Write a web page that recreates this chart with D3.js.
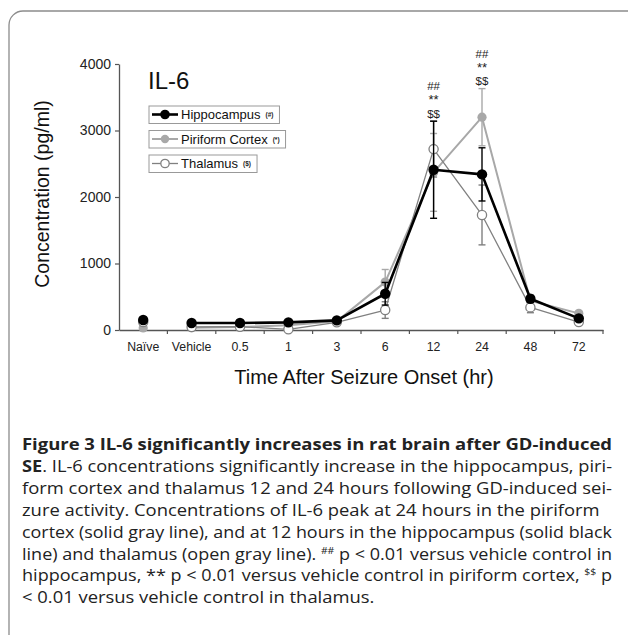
<!DOCTYPE html>
<html>
<head>
<meta charset="utf-8">
<script src="https://cdn.jsdelivr.net/npm/d3@7"></script>
<style>
  body { margin: 0; background: #fff; }
  svg { display: block; }
</style>
</head>
<body>
<div id="svg-area"></div>
<script>
// x categories (time after seizure onset)
var categories = ["Naïve", "Vehicle", "0.5", "1", "3", "6", "12", "24", "48", "72"];

// IL-6 concentration (pg/ml)
var hippocampus    = [150, 105, 105, 115, 145, 545, 2410, 2340, 470, 175];
var hippocampusErr = [25, 20, 20, 20, 25, 170, 730, 400, 50, 30];
var piriform       = [30, 35, 45, 70, 130, 720, 2370, 3200, 440, 250];
var piriformErr    = [20, 15, 15, 15, 20, 190, 585, 430, 60, 30];
var thalamus       = [120, 45, 50, 10, 115, 300, 2720, 1730, 340, 120];
var thalamusErr    = [10, 15, 15, 10, 20, 125, 420, 450, 80, 20];

var yTicks = [0, 1000, 2000, 3000, 4000];

// categories marked significant (## ** $$)
var sigCategories = ["12", "24"];
var sigMarks = ["##", "**", "$$"];

var series = [
  { name: "Piriform Cortex", tag: "(*)", values: piriform, err: piriformErr,
    color: "#a8a8a8", width: 2, fill: "#a8a8a8", r: 4.6 },
  { name: "Thalamus", tag: "($)", values: thalamus, err: thalamusErr,
    color: "#808080", width: 1.3, fill: "#fff", r: 4.6 },
  { name: "Hippocampus", tag: "(#)", values: hippocampus, err: hippocampusErr,
    color: "#000", width: 2.6, fill: "#000", r: 5.2 }
];
var legendOrder = ["Hippocampus", "Piriform Cortex", "Thalamus"];

var W = 628, H = 635;
var svg = d3.select("#svg-area")
  .append("svg")
  .attr("width", W)
  .attr("height", H);

// rounded frame, running off the right and bottom edge
svg.append("rect")
  .attr("x", 9).attr("y", 11)
  .attr("width", 660).attr("height", 640)
  .attr("rx", 14)
  .attr("fill", "none")
  .attr("stroke", "#8c8c8c")
  .attr("stroke-width", 1.3);

var x = d3.scaleBand().domain(categories).range([119, 603]);
var y = d3.scaleLinear().domain([0, 4000]).range([330, 64]);
var cx = function (i) { return x(categories[i]) + x.bandwidth() / 2; };

var font = "'Liberation Sans', Arial, sans-serif";

// y axis
var yAxis = svg.append("g")
  .attr("transform", "translate(119,0)")
  .call(d3.axisLeft(y).tickValues(yTicks).tickFormat(d3.format("d"))
    .tickSize(4).tickSizeOuter(0).tickPadding(4));
yAxis.selectAll("text").attr("font-family", font).attr("font-size", 14).attr("fill", "#222");
yAxis.select(".domain").attr("stroke", "#555").attr("stroke-width", 1.3);
yAxis.selectAll(".tick line").attr("stroke", "#555").attr("stroke-width", 1.2);

// x axis, ticks sit between categories
var xAxis = svg.append("g")
  .attr("transform", "translate(0,330)")
  .call(d3.axisBottom(x).tickSize(0).tickSizeOuter(0).tickPadding(12.5));
xAxis.selectAll("text").attr("font-family", font).attr("font-size", 12.3).attr("fill", "#222");
xAxis.select(".domain").attr("stroke", "#555").attr("stroke-width", 1.3);
xAxis.selectAll(".sep")
  .data(categories)
  .enter()
  .append("line")
  .attr("x1", function (d) { return x(d) + x.bandwidth(); })
  .attr("x2", function (d) { return x(d) + x.bandwidth(); })
  .attr("y1", 0).attr("y2", 4)
  .attr("stroke", "#555").attr("stroke-width", 1.2);

// axis titles
svg.append("text")
  .attr("transform", "translate(49,194) rotate(-90)")
  .attr("text-anchor", "middle")
  .attr("font-family", font).attr("font-size", 19.5).attr("fill", "#111")
  .text("Concentration (pg/ml)");

svg.append("text")
  .attr("x", 364).attr("y", 384)
  .attr("text-anchor", "middle")
  .attr("font-family", font).attr("font-size", 20).attr("fill", "#111")
  .text("Time After Seizure Onset (hr)");

svg.append("text")
  .attr("x", 148).attr("y", 88.5)
  .attr("font-family", font).attr("font-size", 24).attr("fill", "#111")
  .text("IL-6");

// lines (naive is not joined to the rest), error bars, markers
series.forEach(function (s) {
  var g = svg.append("g");
  var idx = d3.range(1, categories.length);
  g.append("path")
    .datum(idx)
    .attr("fill", "none")
    .attr("stroke", s.color)
    .attr("stroke-width", s.width)
    .attr("stroke-linejoin", "round")
    .attr("d", d3.line()
      .x(function (i) { return cx(i); })
      .y(function (i) { return y(s.values[i]); }));

  var eb = g.selectAll(".eb")
    .data(d3.range(categories.length))
    .enter()
    .append("g");
  eb.append("line")
    .attr("x1", function (i) { return cx(i); })
    .attr("x2", function (i) { return cx(i); })
    .attr("y1", function (i) { return y(s.values[i] + s.err[i]); })
    .attr("y2", function (i) { return y(s.values[i] - s.err[i]); })
    .attr("stroke", s.color).attr("stroke-width", 1.4);
  [1, -1].forEach(function (sign) {
    eb.append("line")
      .attr("x1", function (i) { return cx(i) - 3.5; })
      .attr("x2", function (i) { return cx(i) + 3.5; })
      .attr("y1", function (i) { return y(s.values[i] + sign * s.err[i]); })
      .attr("y2", function (i) { return y(s.values[i] + sign * s.err[i]); })
      .attr("stroke", s.color).attr("stroke-width", 1.4);
  });

  g.selectAll("circle")
    .data(d3.range(categories.length))
    .enter()
    .append("circle")
    .attr("cx", function (i) { return cx(i); })
    .attr("cy", function (i) { return y(s.values[i]); })
    .attr("r", s.r)
    .attr("fill", s.fill)
    .attr("stroke", s.color)
    .attr("stroke-width", s.fill === "#fff" ? 1.3 : 0);
});

// significance marks above the highest error bar
var sigOffset = { "##": -31, "**": -16.8, "$$": -3.5 };
sigCategories.forEach(function (c) {
  var i = categories.indexOf(c);
  var top = d3.max(series, function (s) { return s.values[i] + s.err[i]; });
  var yTop = y(top);
  sigMarks.forEach(function (m) {
    svg.append("text")
      .attr("x", cx(i)).attr("y", yTop + sigOffset[m])
      .attr("text-anchor", "middle")
      .attr("font-family", font).attr("font-size", m === "**" ? 13 : 11.5)
      .attr("fill", "#222")
      .text(m);
  });
});

// legend, one box per series
legendOrder.forEach(function (name, k) {
  var s = series.find(function (d) { return d.name === name; });
  var gy = 114.5 + k * 24.5;
  var lg = svg.append("g");
  var box = lg.append("rect")
    .attr("x", 149).attr("y", gy - 8.5)
    .attr("height", 17.5)
    .attr("fill", "#fff")
    .attr("stroke", "#999").attr("stroke-width", 1);
  lg.append("line")
    .attr("x1", 152).attr("x2", 178)
    .attr("y1", gy).attr("y2", gy)
    .attr("stroke", s.color).attr("stroke-width", s.width);
  lg.append("circle")
    .attr("cx", 165).attr("cy", gy).attr("r", s.r - 0.4)
    .attr("fill", s.fill).attr("stroke", s.color)
    .attr("stroke-width", s.fill === "#fff" ? 1.3 : 0);
  var t = lg.append("text")
    .attr("x", 181).attr("y", gy + 4.7)
    .attr("font-family", font).attr("font-size", 13).attr("fill", "#111")
    .text(s.name);
  var tx = 181 + t.node().getComputedTextLength() + 5;
  var tag = lg.append("text")
    .attr("x", tx).attr("y", gy + 2.5)
    .attr("font-family", font).attr("font-size", 6.5).attr("font-weight", "bold")
    .attr("fill", "#222")
    .text(s.tag);
  box.attr("width", tx + tag.node().getComputedTextLength() + 6 - 149);
});

// caption: justified lines fill the width, ragged lines keep the same squeeze
var capFont = "'Open Sans', 'Noto Sans', sans-serif";
var fullWidth = 590;
var caption = [
  { parts: [["Figure 3 IL-6 significantly increases in rat brain after GD-induced", "b"]], full: true },
  { parts: [["SE", "b"], [". IL-6 concentrations significantly increase in the hippocampus, piri-", "n"]], full: true },
  { parts: [["form cortex and thalamus 12 and 24 hours following GD-induced sei-", "n"]], full: true },
  { parts: [["zure activity. Concentrations of IL-6 peak at 24 hours in the piriform", "n"]], full: false },
  { parts: [["cortex (solid gray line), and at 12 hours in the hippocampus (solid black", "n"]], full: true },
  { parts: [["line) and thalamus (open gray line). ", "n"], ["##", "s"], [" p < 0.01 versus vehicle control in", "n"]], full: true },
  { parts: [["hippocampus, ", "n"], ["**", "n"], [" p < 0.01 versus vehicle control in piriform cortex, ", "n"], ["$$", "s"], [" p", "n"]], full: true },
  { parts: [["< 0.01 versus vehicle control in thalamus.", "n"]], full: false }
];

var capNodes = caption.map(function (ln, k) {
  var t = svg.append("text")
    .attr("x", 22).attr("y", 450 + k * 21.9)
    .attr("font-family", capFont).attr("font-size", 16.5).attr("fill", "#222");
  ln.parts.forEach(function (p) {
    var ts = t.append("tspan").text(p[0]);
    if (p[1] === "b") ts.attr("font-weight", "bold");
    if (p[1] === "s") ts.attr("font-size", 9.5).attr("baseline-shift", "6");
  });
  return t;
});
var natural = capNodes.map(function (t) { return t.node().getComputedTextLength(); });
var squeeze = fullWidth / natural[2];
capNodes.forEach(function (t, k) {
  t.attr("textLength", caption[k].full ? fullWidth : natural[k] * squeeze)
    .attr("lengthAdjust", "spacingAndGlyphs");
});
</script>
</body>
</html>
